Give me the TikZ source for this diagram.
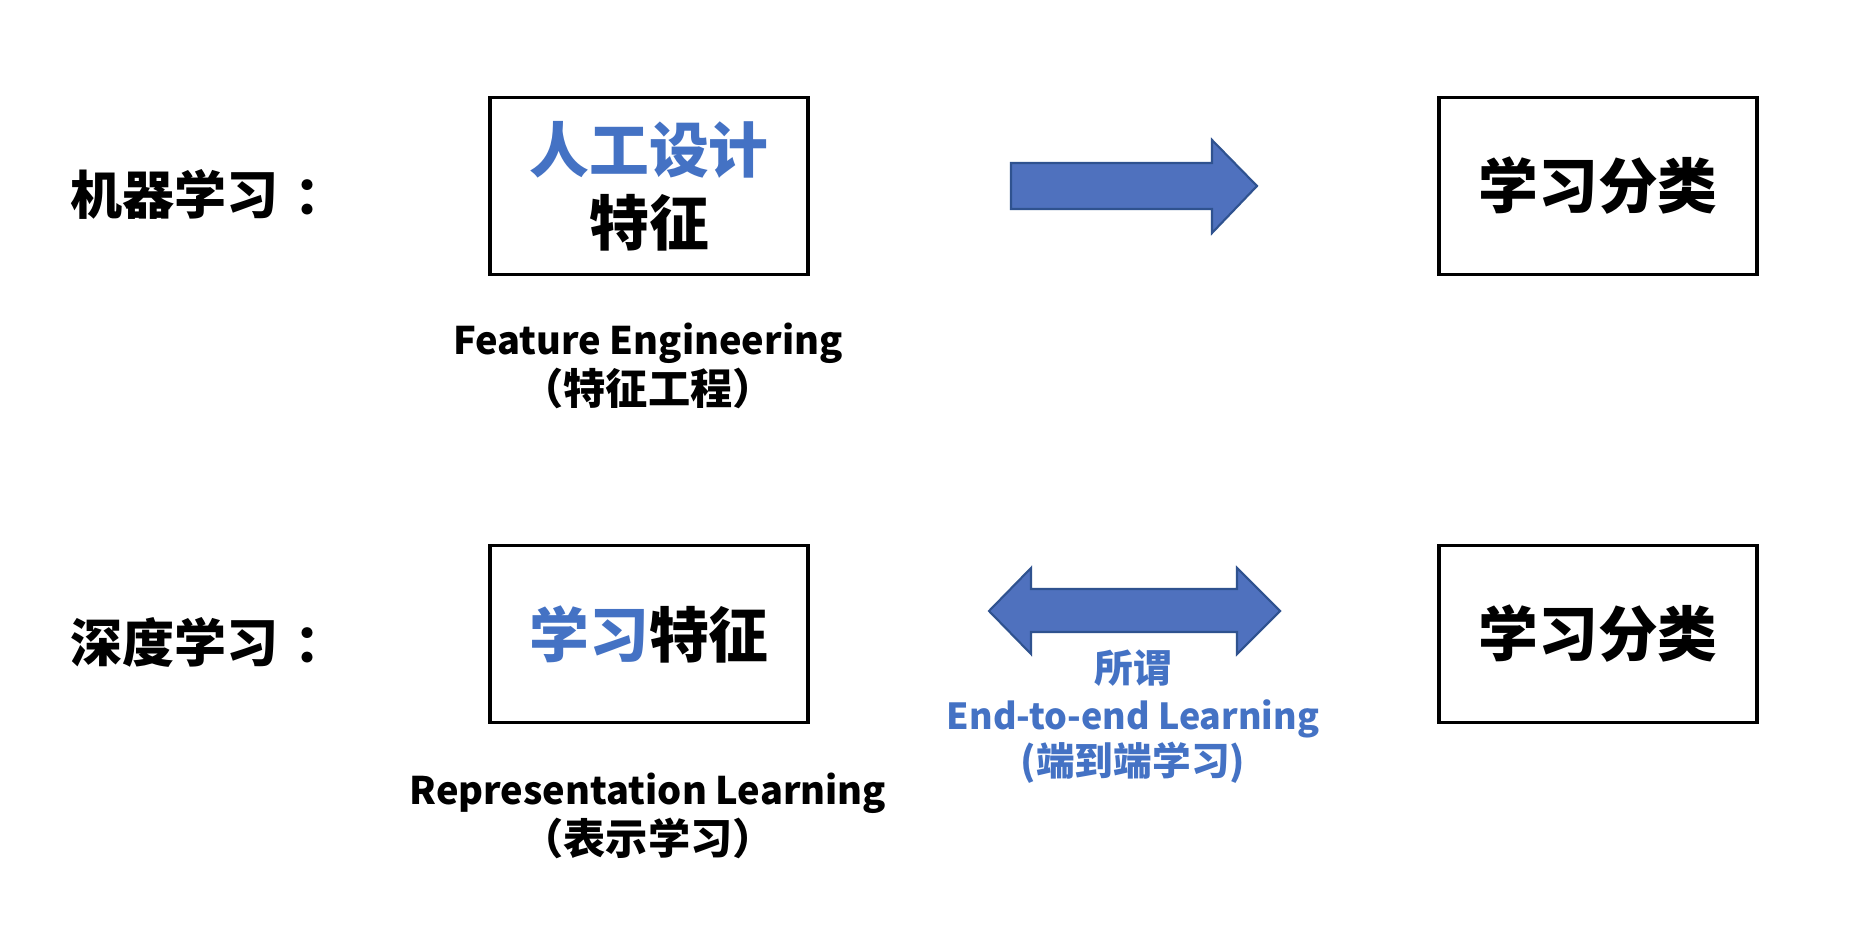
\documentclass[tikz,border=0pt]{standalone}
\usepackage{fontspec}
\setmainfont{Noto Sans CJK SC}
\usetikzlibrary{positioning}
\definecolor{Ink}{HTML}{000000}
\definecolor{Accent}{HTML}{4472C4}
\definecolor{ArrowFill}{HTML}{4F71BE}
\definecolor{ArrowLine}{HTML}{2F528F}
\newcommand\latin[2]{{\fontsize{#1}{14.2}\selectfont #2}}
\tikzset{
  bx/.style={rectangle,draw=Ink,line width=1.1pt,minimum width=3.18cm,minimum height=1.77cm,
             align=center,font=\fontsize{17}{20.8}\selectfont\bfseries,inner sep=0pt},
  rowlab/.style={anchor=west,font=\fontsize{14.8}{17}\selectfont\bfseries,text=Ink,inner sep=0pt},
  sub/.style={align=center,font=\fontsize{12}{14.2}\selectfont\bfseries,text=Ink,inner sep=0pt},
  note/.style={sub,text=Accent,font=\fontsize{11}{13.2}\selectfont\bfseries},
  fat/.style={fill=ArrowFill,draw=ArrowLine,line width=0.6pt,line join=miter},
}
\begin{document}
\begin{tikzpicture}[x=0.01cm,y=-0.01cm]
\path[fill=white] (0,0) rectangle (1858,940);
\useasboundingbox (0,0) rectangle (1858,940);
% Row labels on the left.
\node[rowlab] (ml) at (70,194) {机器学习\kern.3em：};
\node[rowlab] (dl) at (70,642) {深度学习\kern.3em：};
% Feature boxes and classifier boxes.
\node[bx] (feat) at (649,186) {\textcolor{Accent}{人工设计}\\特征};
\node[bx] (cls1) at (1598,186) {学习分类};
\node[bx] (rep) at (649,634) {\textcolor{Accent}{学习}特征};
\node[bx] (cls2) at (1598,634) {学习分类};
\node[sub] (fe) at (648,366) {\latin{10.8}{Feature Engineering}\\（特征工程）};
\node[sub] (rl) at (648,816) {\latin{10.8}{Representation Learning}\\（表示学习）};
\node[note] (e2e) at (1133,717) {所谓\\\latin{10.2}{End-to-end Learning}\\(端到端学习)};
% Block arrows: one-way on top, both ways below.
\filldraw[fat] (1011,163) -- (1212,163) -- (1212,140) -- (1257,186) -- (1212,233) -- (1212,209) -- (1011,209) -- cycle;
\filldraw[fat] (989,611) -- (1031,568) -- (1031,589) -- (1237,589) -- (1237,568) -- (1280,611)
  -- (1237,654) -- (1237,632) -- (1031,632) -- (1031,654) -- cycle;
\end{tikzpicture}
\end{document}
